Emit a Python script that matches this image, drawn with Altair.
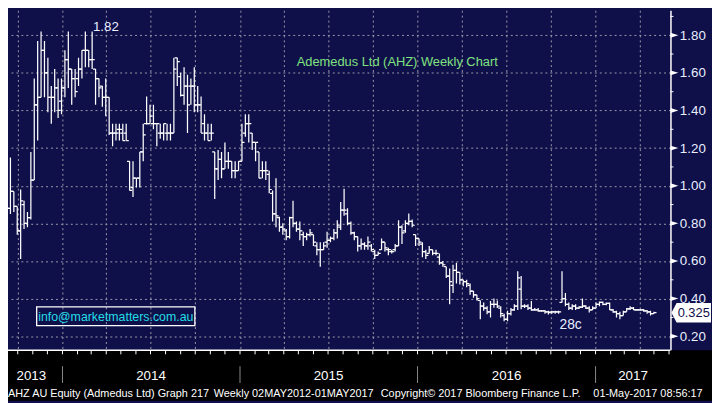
import altair as alt
import pandas as pd

# ---- weekly OHLC values (ending 01-May-2017) ----
opens = [0.66, 0.65, 0.88, 0.97, 0.89, 0.76, 0.90, 0.80, 0.83, 1.03,
         1.43, 1.47, 1.72, 1.60, 1.47, 1.47, 1.52, 1.45, 1.52, 1.67,
         1.62, 1.57, 1.57, 1.62, 1.72, 1.72, 1.67, 1.62, 1.57, 1.53,
         1.47, 1.47, 1.28, 1.28, 1.30, 1.28, 1.28, 1.13, 0.99, 1.04,
         1.04, 1.18, 1.33, 1.33, 1.33, 1.33, 1.28, 1.28, 1.28, 1.28,
         1.28, 1.68, 1.58, 1.48, 1.53, 1.53, 1.53, 1.43, 1.43, 1.33,
         1.28, 1.28, 1.18, 1.09, 1.14, 1.09, 1.13, 1.13, 1.08, 1.08,
         1.13, 1.28, 1.33, 1.28, 1.23, 1.18, 1.08, 1.08, 1.06, 0.96,
         0.85, 0.83, 0.78, 0.76, 0.73, 0.83, 0.80, 0.77, 0.74, 0.73,
         0.74, 0.74, 0.68, 0.66, 0.66, 0.70, 0.71, 0.72, 0.75, 0.78,
         0.87, 0.85, 0.80, 0.75, 0.73, 0.68, 0.69, 0.68, 0.68, 0.65,
         0.63, 0.66, 0.70, 0.66, 0.65, 0.66, 0.68, 0.78, 0.76, 0.80,
         0.81, 0.74, 0.72, 0.69, 0.65, 0.64, 0.66, 0.64, 0.62, 0.59,
         0.57, 0.52, 0.47, 0.55, 0.54, 0.50, 0.49, 0.47, 0.44, 0.42,
         0.39, 0.36, 0.35, 0.33, 0.37, 0.37, 0.35, 0.31, 0.29, 0.32,
         0.34, 0.36, 0.45, 0.36, 0.36, 0.35, 0.34, 0.34, 0.335, 0.335,
         0.33, 0.33, 0.33, 0.33, 0.38, 0.40, 0.37, 0.35, 0.36, 0.35,
         0.355, 0.36, 0.35, 0.34, 0.35, 0.37, 0.38, 0.37, 0.375, 0.34,
         0.33, 0.32, 0.31, 0.33, 0.345, 0.35, 0.34, 0.34, 0.34, 0.335,
         0.33, 0.32]
highs = [0.70, 0.97, 1.15, 0.97, 0.89, 0.98, 0.92, 0.86, 1.18, 1.57,
         1.77, 1.82, 1.77, 1.68, 1.53, 1.62, 1.57, 1.57, 1.72, 1.82,
         1.62, 1.62, 1.68, 1.72, 1.82, 1.72, 1.82, 1.62, 1.57, 1.53,
         1.57, 1.47, 1.33, 1.33, 1.33, 1.33, 1.33, 1.13, 1.13, 1.04,
         1.18, 1.33, 1.475, 1.43, 1.43, 1.33, 1.33, 1.33, 1.33, 1.33,
         1.68, 1.68, 1.60, 1.63, 1.59, 1.57, 1.63, 1.53, 1.475, 1.38,
         1.33, 1.33, 1.18, 1.19, 1.18, 1.23, 1.18, 1.13, 1.13, 1.13,
         1.33, 1.38, 1.38, 1.28, 1.23, 1.18, 1.13, 1.13, 1.08, 0.975,
         1.04, 0.835, 0.80, 0.77, 0.835, 0.92, 0.81, 0.81, 0.756, 0.75,
         0.77, 0.74, 0.70, 0.70, 0.70, 0.755, 0.73, 0.77, 0.817, 0.913,
         0.984, 0.88, 0.81, 0.755, 0.73, 0.72, 0.70, 0.73, 0.69, 0.66,
         0.65, 0.72, 0.70, 0.67, 0.66, 0.69, 0.817, 0.79, 0.817, 0.852,
         0.82, 0.74, 0.72, 0.70, 0.66, 0.68, 0.66, 0.66, 0.64, 0.60,
         0.57, 0.56, 0.58, 0.59, 0.54, 0.50, 0.50, 0.48, 0.44, 0.42,
         0.39, 0.38, 0.36, 0.387, 0.40, 0.39, 0.36, 0.32, 0.335, 0.35,
         0.37, 0.545, 0.52, 0.37, 0.37, 0.387, 0.35, 0.35, 0.34, 0.34,
         0.335, 0.335, 0.335, 0.335, 0.545, 0.43, 0.38, 0.37, 0.37, 0.36,
         0.40, 0.365, 0.36, 0.36, 0.38, 0.385, 0.385, 0.38, 0.38, 0.345,
         0.335, 0.33, 0.335, 0.35, 0.36, 0.355, 0.345, 0.345, 0.345, 0.34,
         0.335, 0.33]
lows = [0.62, 0.64, 0.85, 0.86, 0.74, 0.61, 0.77, 0.78, 0.82, 1.03,
        1.24, 1.47, 1.47, 1.39, 1.33, 1.39, 1.36, 1.38, 1.47, 1.52,
        1.43, 1.47, 1.53, 1.57, 1.63, 1.63, 1.62, 1.43, 1.47, 1.42,
        1.37, 1.27, 1.21, 1.24, 1.24, 1.24, 1.24, 0.975, 0.94, 0.99,
        0.99, 1.13, 1.325, 1.33, 1.30, 1.21, 1.25, 1.24, 1.24, 1.24,
        1.28, 1.53, 1.475, 1.43, 1.28, 1.43, 1.39, 1.39, 1.28, 1.24,
        1.24, 1.24, 0.93, 1.03, 1.04, 1.09, 1.09, 1.04, 1.04, 1.08,
        1.13, 1.26, 1.23, 1.19, 1.13, 1.04, 1.04, 1.03, 0.96, 0.81,
        0.78, 0.756, 0.74, 0.71, 0.72, 0.78, 0.756, 0.71, 0.68, 0.71,
        0.73, 0.68, 0.63, 0.57, 0.66, 0.67, 0.70, 0.71, 0.72, 0.765,
        0.84, 0.79, 0.74, 0.71, 0.65, 0.66, 0.66, 0.66, 0.65, 0.61,
        0.63, 0.66, 0.65, 0.63, 0.64, 0.65, 0.68, 0.69, 0.75, 0.79,
        0.78, 0.68, 0.68, 0.62, 0.61, 0.64, 0.63, 0.63, 0.58, 0.57,
        0.51, 0.37, 0.43, 0.48, 0.475, 0.466, 0.46, 0.42, 0.405, 0.39,
        0.29, 0.335, 0.317, 0.30, 0.352, 0.35, 0.30, 0.28, 0.28, 0.31,
        0.335, 0.34, 0.343, 0.35, 0.34, 0.335, 0.335, 0.33, 0.33, 0.32,
        0.315, 0.32, 0.32, 0.32, 0.38, 0.36, 0.34, 0.34, 0.34, 0.345,
        0.35, 0.345, 0.326, 0.34, 0.35, 0.36, 0.365, 0.365, 0.34, 0.325,
        0.30, 0.29, 0.31, 0.33, 0.34, 0.34, 0.335, 0.335, 0.33, 0.32,
        0.31, 0.32]
closes = [0.65, 0.88, 0.97, 0.89, 0.76, 0.92, 0.80, 0.83, 1.03, 1.43,
          1.47, 1.72, 1.60, 1.47, 1.47, 1.52, 1.40, 1.52, 1.67, 1.62,
          1.57, 1.50, 1.62, 1.72, 1.72, 1.67, 1.67, 1.57, 1.52, 1.47,
          1.47, 1.28, 1.28, 1.28, 1.30, 1.24, 1.24, 0.975, 1.04, 1.04,
          1.18, 1.27, 1.33, 1.37, 1.33, 1.33, 1.28, 1.33, 1.28, 1.28,
          1.62, 1.66, 1.48, 1.53, 1.43, 1.53, 1.43, 1.43, 1.28, 1.28,
          1.24, 1.28, 1.09, 1.14, 1.09, 1.13, 1.13, 1.08, 1.08, 1.13,
          1.23, 1.33, 1.33, 1.23, 1.23, 1.04, 1.08, 1.08, 0.98, 0.85,
          0.84, 0.78, 0.77, 0.73, 0.83, 0.80, 0.77, 0.76, 0.73, 0.74,
          0.75, 0.70, 0.66, 0.66, 0.68, 0.71, 0.72, 0.75, 0.79, 0.87,
          0.87, 0.80, 0.75, 0.73, 0.68, 0.69, 0.68, 0.70, 0.66, 0.63,
          0.64, 0.70, 0.67, 0.66, 0.65, 0.68, 0.78, 0.75, 0.80, 0.81,
          0.79, 0.72, 0.70, 0.65, 0.63, 0.66, 0.64, 0.64, 0.59, 0.58,
          0.52, 0.49, 0.55, 0.54, 0.50, 0.49, 0.48, 0.44, 0.42, 0.40,
          0.36, 0.35, 0.33, 0.37, 0.37, 0.36, 0.32, 0.29, 0.32, 0.34,
          0.36, 0.51, 0.36, 0.36, 0.35, 0.34, 0.34, 0.335, 0.335, 0.33,
          0.325, 0.33, 0.33, 0.33, 0.40, 0.37, 0.35, 0.36, 0.35, 0.355,
          0.36, 0.35, 0.34, 0.35, 0.37, 0.38, 0.37, 0.375, 0.34, 0.33,
          0.32, 0.31, 0.33, 0.345, 0.35, 0.34, 0.34, 0.34, 0.335, 0.33,
          0.32, 0.325]

y_major = [0.2, 0.4, 0.6, 0.8, 1.0, 1.2, 1.4, 1.6, 1.8]
y_minor = [0.3, 0.5, 0.7, 0.9, 1.1, 1.3, 1.5, 1.7, 1.9]
year_labels = ["2013", "2014", "2015", "2016", "2017"]
footer_parts = ["AHZ AU Equity (Admedus Ltd) Graph 217",
                "Weekly 02MAY2012-01MAY2017",
                "Copyright\u00a9 2017 Bloomberg Finance L.P.",
                "01-May-2017 08:56:17"]
title_text = "Ademedus Ltd (AHZ) Weekly Chart"
email_text = "info@marketmatters.com.au"
high_note = "1.82"
low_note = "28c"

# ---- style / layout ----
NAVY = "#0f0f4a"
SANS = "Liberation Sans, Arial"
W, H = 670, 344
TOTAL_W, TOTAL_H = 712, 395

n = len(closes)
dates = pd.date_range(end=pd.Timestamp("2017-05-01"), periods=n, freq="7D")
df = pd.DataFrame({"date": dates.strftime("%Y-%m-%d"), "open": opens,
                   "high": highs, "low": lows, "close": closes})

x_start, x_end = pd.Timestamp("2013-09-11"), pd.Timestamp("2017-06-04")
ref_left = pd.Timestamp("2013-08-26")


def dt(ts):
    return alt.DateTime(year=ts.year, month=ts.month, date=ts.day, utc=True)


quarters = [dt(t) for t in pd.date_range("2013-10-01", "2017-04-01", freq="QS")]
xscale = alt.Scale(domain=[dt(x_start), dt(x_end)])
yscale = alt.Scale(domain=[0.125, 1.933], nice=False, zero=False)

xaxis = alt.Axis(values=quarters, grid=True, gridColor="#9a9aa8", gridDash=[2, 3],
                 gridWidth=1, ticks=False, labels=False, domain=False, title=None)
yaxis = alt.Axis(orient="right", values=y_major, format=".2f", grid=True,
                 gridColor="#9a9aa8", gridDash=[2, 3], gridWidth=1,
                 domain=True, domainColor="white", domainWidth=1.5,
                 ticks=True, tickSize=3, tickColor="white",
                 labelColor="#e8eeff", labelFont=SANS, labelFontSize=13.5,
                 labelPadding=6, title=None)


def XT(field="date"):
    return alt.X(f"{field}:T", scale=xscale, axis=xaxis)


def YQ(field):
    return alt.Y(f"{field}:Q", scale=yscale, axis=yaxis)


one = pd.DataFrame({"k": [0]})

band = alt.Chart(one).mark_rect(color="black").encode(
    x=alt.value(0), x2=alt.value(TOTAL_W), y=alt.value(H), y2=alt.value(TOTAL_H))

base = alt.Chart(df)
hl = base.mark_rule(color="white", strokeWidth=1.25, clip=True).encode(
    x=XT(), y=YQ("low"), y2="high:Q")
op = base.mark_rule(color="white", strokeWidth=1.25, clip=True, xOffset=-2.6, x2Offset=0).encode(
    x=XT(), x2="date:T", y=YQ("open"))
cl = base.mark_rule(color="white", strokeWidth=1.25, clip=True, xOffset=0, x2Offset=2.6).encode(
    x=XT(), x2="date:T", y=YQ("close"))

minor = alt.Chart(pd.DataFrame({"v": y_minor})).mark_rule(color="white").encode(
    x=alt.value(W), x2=alt.value(W + 3), y=YQ("v"))
arrows = alt.Chart(pd.DataFrame({"v": y_major})).mark_point(
    shape="M -1 -0.62 L 1 0 L -1 0.62 Z", filled=True, size=64, color="white",
    opacity=1, strokeWidth=0).encode(x=alt.value(W + 4), y=YQ("v"))

last_df = pd.DataFrame({"v": [closes[-1]], "t": [f"{closes[-1]:.3f}"]})
last_box = alt.Chart(last_df).mark_point(
    shape="M -1 0 L -0.74 -0.49 L 1 -0.49 L 1 0.49 L -0.74 0.49 Z", filled=True,
    size=40 * 40, color="white", opacity=1, strokeWidth=0).encode(
    x=alt.value(W + 1 + 20), y=YQ("v"))
last_txt = alt.Chart(last_df).mark_text(font=SANS, fontSize=13, color=NAVY).encode(
    x=alt.value(W + 23.5), y=YQ("v"), text="t:N")

baseline = alt.Chart(one).mark_rule(color="white", strokeWidth=1.5).encode(
    x=alt.value(0), x2=alt.value(W), y=alt.value(H))
months = pd.DataFrame({"date": pd.date_range("2013-10-01", "2017-06-01", freq="MS").strftime("%Y-%m-%d")})
mticks = alt.Chart(months).mark_rule(color="white").encode(
    x=XT(), y=alt.value(H), y2=alt.value(H + 4))
years = pd.DataFrame({"date": ["2014-01-01", "2015-01-01", "2016-01-01", "2017-01-01"]})
seps = alt.Chart(years).mark_rule(color="#8a8a8a").encode(
    x=XT(), y=alt.value(H + 16), y2=alt.value(H + 33))

bounds = [ref_left] + [pd.Timestamp(f"{y}-01-01") for y in (2014, 2015, 2016, 2017)] + [x_end]
mids = [(bounds[i] + (bounds[i + 1] - bounds[i]) / 2).strftime("%Y-%m-%d") for i in range(5)]
ylab = alt.Chart(pd.DataFrame({"date": mids, "label": year_labels})).mark_text(
    font=SANS, fontSize=13.5, color="white").encode(
    x=XT(), y=alt.value(H + 26), text="label:N")

footer_x = [0, 208, 377, 592]
footers = [alt.Chart(one).mark_text(font=SANS, fontSize=11, color="white", align="left",
                                     text=t).encode(x=alt.value(fx), y=alt.value(H + 44))
           for t, fx in zip(footer_parts, footer_x)]

title = alt.Chart(one).mark_text(font=SANS, fontSize=13, color="#80e27f", align="left",
                                 text=title_text).encode(x=alt.value(292), y=alt.value(52))
email_box = alt.Chart(one).mark_rect(fillOpacity=0, stroke="white", strokeWidth=1.3).encode(
    x=alt.value(29), x2=alt.value(189), y=alt.value(300), y2=alt.value(319))
email = alt.Chart(one).mark_text(font=SANS, fontSize=12.5, color="#22dde6",
                                 text=email_text).encode(x=alt.value(109), y=alt.value(310))
hi_note = alt.Chart(one).mark_text(font=SANS, fontSize=13.5, color="#e8eeff",
                                   text=high_note).encode(x=alt.value(99), y=alt.value(17))
lo_note = alt.Chart(one).mark_text(font=SANS, fontSize=14, color="#e8eeff",
                                   text=low_note).encode(x=alt.value(569), y=alt.value(318))

chart = alt.layer(
    hl, op, cl, band, minor, arrows, last_box, last_txt, baseline, mticks, seps, ylab,
    *footers, title, email_box, email, hi_note, lo_note
).properties(
    width=W, height=H,
    autosize=alt.AutoSizeParams(type="none"),
    padding={"left": 0, "top": 0, "right": TOTAL_W - W, "bottom": TOTAL_H - H},
).configure(background=NAVY).configure_view(fill=NAVY, strokeWidth=0)

chart.save("out.html", embed_options={"renderer": "svg", "actions": False})
